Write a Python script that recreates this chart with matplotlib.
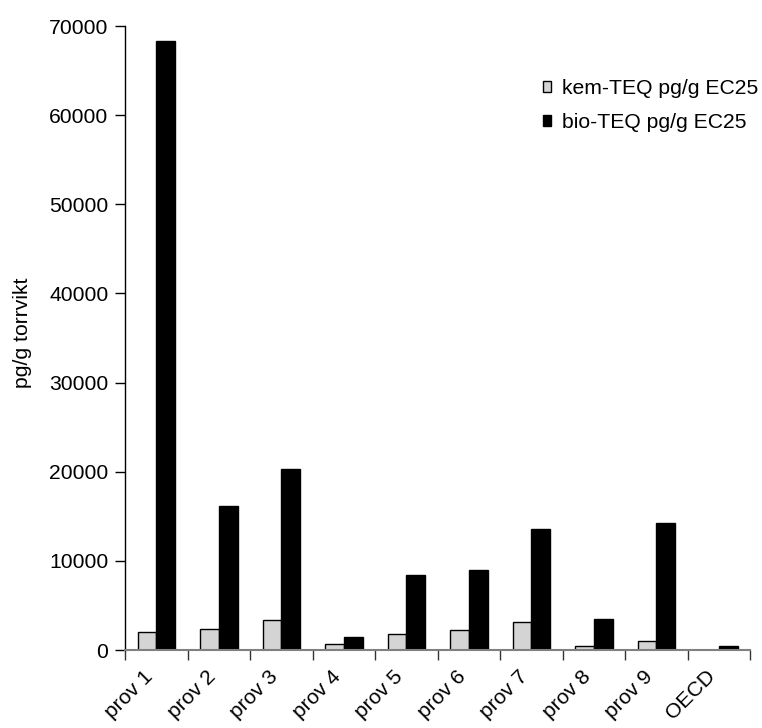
import matplotlib.pyplot as plt
import matplotlib.transforms as mtransforms
import numpy as np

plt.rcParams['font.family'] = ['Liberation Sans', 'DejaVu Sans']

samples = ["prov 1", "prov 2", "prov 3", "prov 4", "prov 5",
           "prov 6", "prov 7", "prov 8", "prov 9", "OECD"]
kem_teq = [1990, 2390, 3400, 640, 1830, 2210, 3180, 420, 1040, 0]
bio_teq = [68300, 16100, 20300, 1430, 8400, 8950, 13560, 3450, 14200, 480]

fig = plt.figure(figsize=(7.62, 7.28), dpi=100)
ax = fig.add_axes([125 / 762, 78 / 728, 625 / 762, 624 / 728])

x = np.arange(len(samples))
w = 0.3
ax.bar(x - w / 2, kem_teq, w, color='#d4d4d4', edgecolor='black', linewidth=1,
       label='kem-TEQ pg/g EC25', zorder=2)
ax.bar(x + w / 2, bio_teq, w, color='black', edgecolor='black', linewidth=1,
       label='bio-TEQ pg/g EC25', zorder=2)

fs = 15.2
ax.set_xlim(-0.5, len(samples) - 0.5)
ax.set_ylim(0, 70000)
ax.set_yticks(range(0, 70001, 10000))
ax.tick_params(axis='y', direction='out', length=7, width=1, labelsize=fs, pad=5)

# category labels sit between the boundary ticks
ax.set_xticks(np.arange(len(samples) + 1) - 0.5)
ax.set_xticklabels([])
ax.set_xticks(x, minor=True)
ax.set_xticklabels(samples, minor=True, rotation=45, ha='right',
                   rotation_mode='anchor', fontsize=fs)
ax.tick_params(axis='x', which='minor', length=0, pad=12)
ax.tick_params(axis='x', which='major', direction='out', length=7, width=1,
               color='#333333')
shift = mtransforms.ScaledTranslation(-13 / 100, 0, fig.dpi_scale_trans)
for lbl in ax.xaxis.get_minorticklabels():
    lbl.set_transform(lbl.get_transform() + shift)

for s in ['top', 'right']:
    ax.spines[s].set_visible(False)
ax.spines['left'].set_linewidth(1)
ax.spines['bottom'].set_color('#808080')
ax.spines['bottom'].set_linewidth(1.5)

ax.set_ylabel('pg/g torrvikt', fontsize=fs)
ax.yaxis.set_label_coords(-0.149, 0.508)

fig.legend(loc='upper left', bbox_to_anchor=(543 / 762, (728 - 79) / 728),
           frameon=False, fontsize=fs, handlelength=0.4, handleheight=0.4,
           handletextpad=0.5, labelspacing=0.7, borderpad=0, borderaxespad=0)

fig.savefig('out.png', dpi=100)
